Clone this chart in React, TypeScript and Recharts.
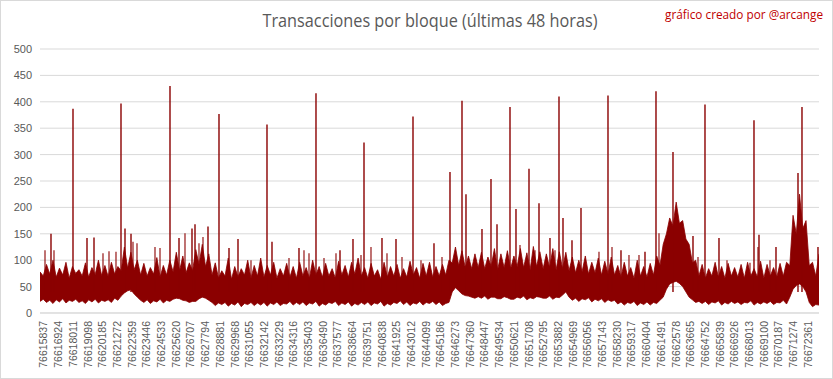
import { ComposedChart, Area, Line, XAxis, YAxis, CartesianGrid } from "recharts";

// blocks covered by the chart (48 h)
const firstBlock = 76615837;
const lastBlock = 76673437;
const sampleStep = 240;

// dense band of tx/block: lower / upper envelope read every 240 blocks
const bandLow = [
  22, 26, 20, 24, 18, 25, 21, 27, 19, 24, 22, 26, 20, 23, 18, 25, 21, 26, 19, 24, 22, 25, 20, 28, 24, 32,
  38, 42, 44, 36, 30, 24,
  20, 25, 18, 23, 21, 26, 19, 24, 22, 26,
  28, 27, 24, 23, 20, 22,
  22, 27, 30, 28, 24, 20,
  14, 19, 16, 20, 13, 18, 15, 21, 12, 18, 16, 20, 14, 19,
  15, 20, 13, 19, 16, 21, 14, 18, 17, 22, 15, 20,
  16, 21, 14, 19, 17, 22, 13, 18, 15, 20, 18, 22, 14, 19, 16, 21, 13, 18, 15, 20,
  16, 21, 14, 19, 17, 22, 13, 18, 15, 20, 18, 23, 16, 21, 14, 19, 17, 22, 15, 20, 18, 22, 16, 21, 14, 18,
  20, 40,
  48, 42, 36, 33, 32, 30, 28, 31,
  28, 32, 26, 30, 30, 27, 27, 31, 29, 26, 26, 30, 28, 32, 25, 29, 27, 31, 30, 28, 28, 32, 26, 30, 29, 34,
  40, 30,
  24, 28, 22, 27, 25, 29, 21, 26, 23, 27, 20, 25, 22, 24,
  17, 21, 15, 20, 18, 22, 14, 19, 16, 21, 15, 20, 18, 24,
  30, 45, 55, 58, 60, 56, 50, 40, 30, 25, 20, 22,
  18, 22, 16, 21, 19, 23, 15, 20, 17, 22, 18, 21, 16, 20, 19, 23, 15, 20, 17, 21, 18, 22, 16, 20, 19, 24, 17, 30,
  45, 52, 55, 50, 40, 20,
  12, 16, 15,
];

const bandHigh = [
  78, 70, 92, 74, 100, 68, 85, 72, 96, 66, 88, 75, 82, 70, 95, 68, 86, 73, 100, 71, 90, 69, 96, 74, 88, 80,
  125, 85, 115, 82, 100, 72,
  94, 70, 86, 74, 105, 68, 90, 72, 100, 78,
  115, 80, 108, 76, 95, 80,
  120, 92, 130, 88, 112, 72,
  95, 66, 80, 70, 104, 64, 88, 68, 84, 72, 100, 66, 90, 70,
  104, 68, 90, 72, 96, 66, 84, 70, 94, 68, 88, 66,
  96, 70, 86, 66, 100, 72, 88, 68, 94, 70, 84, 66, 98, 72, 90, 68, 96, 74, 104, 70,
  86, 66, 94, 70, 82, 64, 96, 68, 88, 70, 92, 66, 84, 68, 98, 72, 86, 66, 94, 70, 96, 68, 88, 70, 92, 72,
  100, 95,
  125, 90, 118, 86, 108, 84, 112, 86,
  115, 84, 106, 88, 122, 82, 112, 86, 118, 84, 108, 88, 122, 86, 114, 82, 126, 88, 116, 84, 112, 86, 122, 82, 116, 84,
  115, 80,
  106, 76, 100, 78, 108, 74, 96, 76, 104, 72, 98, 74, 106, 72,
  90, 68, 96, 70, 86, 66, 100, 70, 88, 68, 94, 72, 108, 90,
  130, 150, 180, 165, 210, 170, 175, 140, 130, 95, 100, 70,
  92, 66, 84, 70, 96, 68, 88, 66, 94, 70, 86, 68, 92, 66, 96, 70, 84, 68, 98, 66, 92, 70, 86, 68, 94, 70, 96, 90,
  185, 150, 225, 160, 175, 90,
  96, 70, 112,
];

// single blocks standing far out of the band
const spikeBlocks = [
  76616650, 76618277, 76619312, 76619830, 76621826, 76622122, 76622566,
  76625449, 76626115, 76627076, 76627298, 76628259, 76629072, 76629812,
  76630477, 76632621, 76632991, 76634987, 76636244, 76638019, 76638980,
  76639794, 76641124, 76642160, 76643417, 76644969, 76646152, 76647040,
  76647335, 76648518, 76649184, 76649628, 76650589, 76651032, 76651994,
  76652733, 76653546, 76654212, 76654508, 76655173, 76655839, 76657835,
  76658796, 76660571, 76661384, 76662641, 76664120, 76665007, 76666042,
  76668630, 76669000, 76670257, 76671884, 76672179, 76673362,
];
const spikeValues = [
  150, 387, 142, 143, 397, 160, 150,
  430, 142, 160, 168, 164, 377, 123,
  140, 357, 135, 123, 416, 119, 140,
  323, 142, 140, 372, 132, 267, 402,
  225, 159, 254, 168, 390, 197, 273,
  208, 142, 410, 180, 138, 199, 412,
  119, 116, 420, 305, 146, 395, 142,
  365, 148, 125, 265, 390, 125,
];

// smaller peaks on top of the band
const fringeBlocks = [
  76616207, 76616872, 76620495, 76620939, 76621456, 76622713, 76623009,
  76624340, 76624710, 76626558, 76627593, 76627889, 76631438, 76634248,
  76635357, 76635727, 76636836, 76637723, 76639572, 76640311, 76641494,
  76642603, 76644008, 76645561, 76651328, 76652437, 76653916, 76657169,
  76658131, 76659387, 76660127, 76661606, 76664490, 76666634, 76668334,
  76668926, 76669813,
];
const fringeValues = [
  119, 119, 113, 117, 116, 135, 132,
  125, 123, 151, 132, 144, 100, 104,
  119, 113, 104, 113, 110, 125, 113,
  106, 100, 106, 129, 119, 119, 116,
  125, 110, 110, 151, 106, 100, 95,
  125, 100,
];
const peakBase = 40;

const xTicks = [
  76615837, 76616924, 76618011, 76619098, 76620185, 76621272, 76622359,
  76623446, 76624533, 76625620, 76626707, 76627794, 76628881, 76629968,
  76631055, 76632142, 76633229, 76634316, 76635403, 76636490, 76637577,
  76638664, 76639751, 76640838, 76641925, 76643012, 76644099, 76645186,
  76646273, 76647360, 76648447, 76649534, 76650621, 76651708, 76652795,
  76653882, 76654969, 76656056, 76657143, 76658230, 76659317, 76660404,
  76661491, 76662578, 76663665, 76664752, 76665839, 76666926, 76668013,
  76669100, 76670187, 76671274, 76672361,
];
const yTicks = [0, 50, 100, 150, 200, 250, 300, 350, 400, 450, 500];

const bandData = bandLow.map((low, i) => ({
  block: firstBlock + i * sampleStep,
  range: [low, bandHigh[i]],
}));

const toSegments = (blocks: number[], values: number[]) =>
  blocks.flatMap((b, i) => [
    { block: b, tx: peakBase },
    { block: b, tx: values[i] },
    { block: b, tx: null },
  ]);

const spikeData = toSegments(spikeBlocks, spikeValues);
const fringeData = toSegments(fringeBlocks, fringeValues);

const red = "#8b0000";
const grey = "#595959";
const font = "'Liberation Sans', Arial, sans-serif";

export default function App() {
  return (
    <div style={{ position: "absolute", left: 0, top: 0, width: 833, height: 379, background: "#fff" }}>
      <ComposedChart width={833} height={379} data={bandData} margin={{ top: 49, right: 14, bottom: 0, left: 0 }}>
        <CartesianGrid vertical={false} stroke="#d9d9d9" />
        <XAxis
          dataKey="block"
          type="number"
          domain={[firstBlock, lastBlock]}
          ticks={xTicks}
          interval={0}
          angle={-90}
          textAnchor="end"
          height={66}
          tickLine={false}
          axisLine={{ stroke: "#d9d9d9" }}
          tick={{ fontSize: 10.5, fill: grey, fontFamily: font }}
          allowDataOverflow
        />
        <YAxis
          type="number"
          domain={[0, 500]}
          ticks={yTicks}
          width={40}
          tickLine={false}
          axisLine={false}
          tick={{ fontSize: 11, fill: grey, fontFamily: font }}
        />
        <Area
          dataKey="range"
          type="linear"
          stroke={red}
          strokeWidth={0.8}
          fill={red}
          fillOpacity={1}
          isAnimationActive={false}
        />
        <Line
          data={fringeData}
          dataKey="tx"
          type="linear"
          stroke={red}
          strokeWidth={1.1}
          dot={false}
          connectNulls={false}
          isAnimationActive={false}
        />
        <Line
          data={spikeData}
          dataKey="tx"
          type="linear"
          stroke={red}
          strokeWidth={1.4}
          dot={false}
          connectNulls={false}
          isAnimationActive={false}
        />
      </ComposedChart>
      <svg width={833} height={379} style={{ position: "absolute", left: 0, top: 0, pointerEvents: "none" }}>
        <rect x={0.5} y={0.5} width={832} height={378} fill="none" stroke="#d9d9d9" />
        <text
          x={430}
          y={27}
          textAnchor="middle"
          fontSize={19}
          fill={grey}
          fontFamily="'Open Sans', sans-serif"
          textLength={335}
          lengthAdjust="spacingAndGlyphs"
        >
          Transacciones por bloque (últimas 48 horas)
        </text>
        <text
          x={823}
          y={19}
          textAnchor="end"
          fontSize={12.5}
          fill="#c00000"
          fontFamily="'Open Sans', sans-serif"
          textLength={158}
          lengthAdjust="spacingAndGlyphs"
        >
          gráfico creado por @arcange
        </text>
      </svg>
    </div>
  );
}
